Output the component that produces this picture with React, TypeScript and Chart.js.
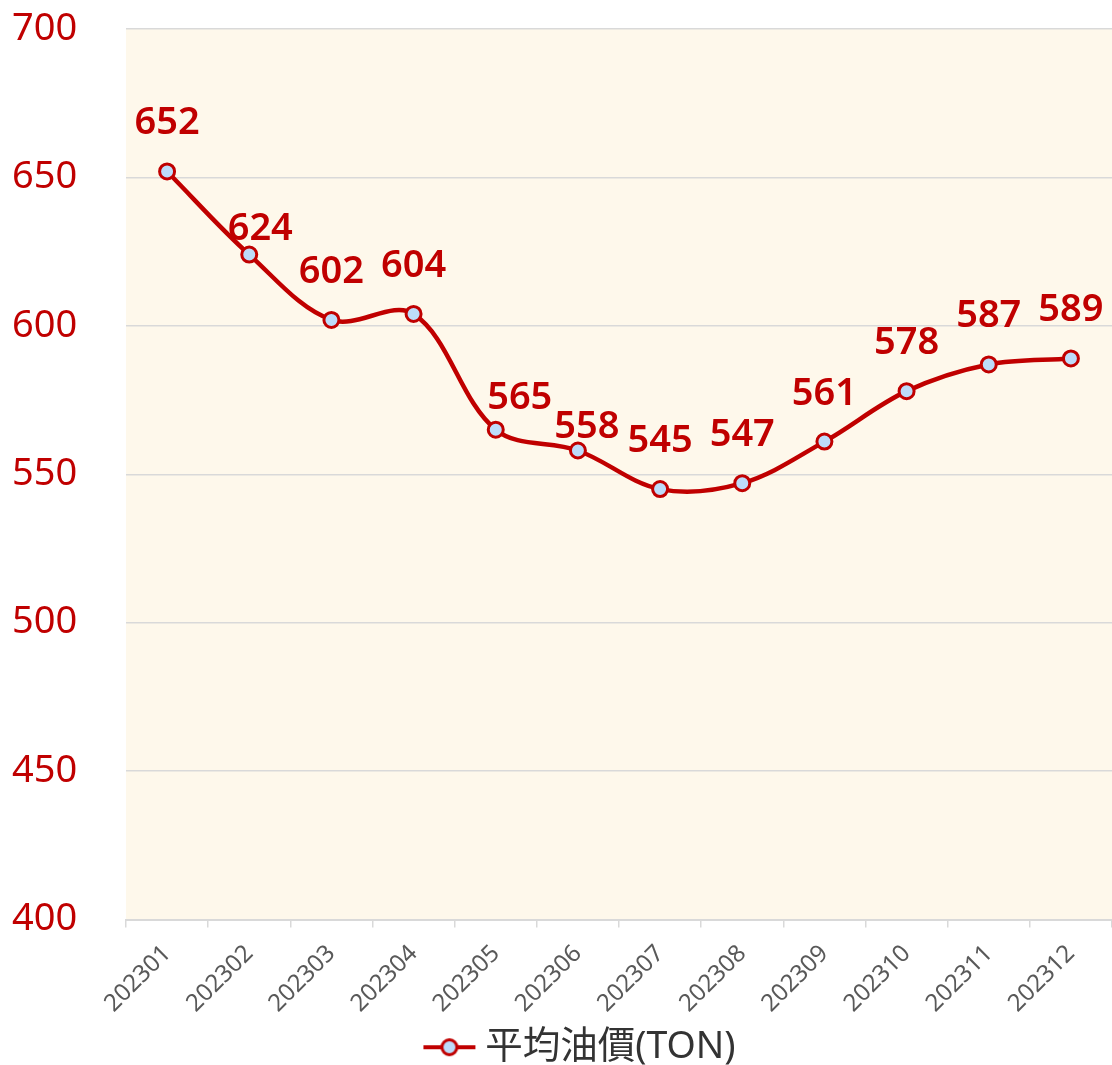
import React, { useEffect, useRef } from "react";
import { Chart, registerables } from "chart.js";

Chart.register(...registerables);

const categories = ["202301", "202302", "202303", "202304", "202305", "202306", "202307", "202308", "202309", "202310", "202311", "202312"];
const avgOilPrice = [652, 624, 602, 604, 565, 558, 545, 547, 561, 578, 587, 589];
const seriesName = "平均油價(TON)";
const yMin = 400;
const yMax = 700;
const yStep = 50;
// data label offsets relative to each point: [dx, gap above point]
const labelDx = [0, 11, 0, 0, 24, 9, 0, 0, 0, 0, 0, 0];
const labelGap = [37, 15, 37, 37, 21, 13, 37, 37, 37, 37, 37, 37];

const RED = "#C00000";
const BLUE = "#BDDCFA";
const FONT = "'Noto Sans', 'Noto Sans CJK TC', sans-serif";

export default function App() {
  const ref = useRef<HTMLCanvasElement | null>(null);

  useEffect(() => {
    document.body.style.margin = "0";
    document.body.style.overflow = "hidden";
    const canvas = ref.current;
    if (!canvas) return;

    // legend marker: line with a circle, drawn right of the image centre
    const marker = document.createElement("canvas");
    marker.width = 130;
    marker.height = 22;
    const mctx = marker.getContext("2d")!;
    mctx.strokeStyle = RED;
    mctx.lineWidth = 4;
    mctx.beginPath();
    mctx.moveTo(61, 11);
    mctx.lineTo(113, 11);
    mctx.stroke();
    mctx.beginPath();
    mctx.arc(87, 11, 7.5, 0, Math.PI * 2);
    mctx.fillStyle = BLUE;
    mctx.fill();
    mctx.lineWidth = 3;
    mctx.stroke();

    const bgPlugin = {
      id: "plotBg",
      beforeDraw(chart: any) {
        const { ctx, chartArea } = chart;
        ctx.save();
        ctx.fillStyle = "#FEF8EB";
        ctx.fillRect(chartArea.left, chartArea.top, chartArea.right - chartArea.left, chartArea.bottom - chartArea.top);
        ctx.restore();
      },
    };

    const labelPlugin = {
      id: "valueLabels",
      afterDatasetsDraw(chart: any) {
        const { ctx } = chart;
        const meta = chart.getDatasetMeta(0);
        ctx.save();
        ctx.font = `600 38px ${FONT}`;
        ctx.fillStyle = RED;
        ctx.textAlign = "center";
        ctx.textBaseline = "alphabetic";
        meta.data.forEach((pt: any, i: number) => {
          ctx.fillText(String(avgOilPrice[i]), pt.x + labelDx[i], pt.y - labelGap[i]);
        });
        ctx.restore();
      },
    };

    const chart = new Chart(canvas, {
      type: "line",
      data: {
        labels: categories,
        datasets: [
          {
            label: seriesName,
            data: avgOilPrice,
            borderColor: RED,
            borderWidth: 4.5,
            backgroundColor: BLUE,
            pointBackgroundColor: BLUE,
            pointBorderColor: RED,
            pointBorderWidth: 3,
            pointRadius: 7.5,
            tension: 0.35,
            fill: false,
          },
        ],
      },
      options: {
        animation: false,
        responsive: false,
        maintainAspectRatio: false,
        layout: { autoPadding: false, padding: { left: 12, top: 29, right: 0, bottom: -11 } },
        plugins: {
          tooltip: { enabled: false },
          legend: {
            position: "bottom",
            labels: {
              usePointStyle: true,
              pointStyle: marker as any,
              pointStyleWidth: 78,
              boxHeight: 16,
              padding: 4,
              color: "#333333",
              font: { family: FONT, size: 37.5 },
            },
          },
        },
        scales: {
          x: {
            offset: true,
            grid: {
              display: true,
              drawOnChartArea: false,
              drawTicks: true,
              tickLength: 8,
              offset: true,
              color: "#D9D9D9",
              lineWidth: 1.5,
            },
            border: { display: true, color: "#D9D9D9", width: 2 },
            ticks: {
              color: "#595959",
              font: { family: FONT, size: 24 },
              minRotation: 45,
              maxRotation: 45,
              autoSkip: false,
              padding: 12,
            },
            afterFit(scale: any) {
              scale.height = 105;
            },
          },
          y: {
            min: yMin,
            max: yMax,
            grid: { color: "#D9D9D9", lineWidth: 1.5, drawTicks: false },
            border: { display: false },
            ticks: {
              stepSize: yStep,
              color: RED,
              font: { family: FONT, size: 38 },
              crossAlign: "far",
              padding: 0,
            },
            afterFit(scale: any) {
              scale.width = 114;
            },
          },
        },
      },
      plugins: [bgPlugin, labelPlugin],
    });

    return () => chart.destroy();
  }, []);

  return (
    <div style={{ width: 1112, height: 1065, overflow: "hidden" }}>
      <canvas ref={ref} width={1112} height={1065} style={{ display: "block" }} />
    </div>
  );
}
